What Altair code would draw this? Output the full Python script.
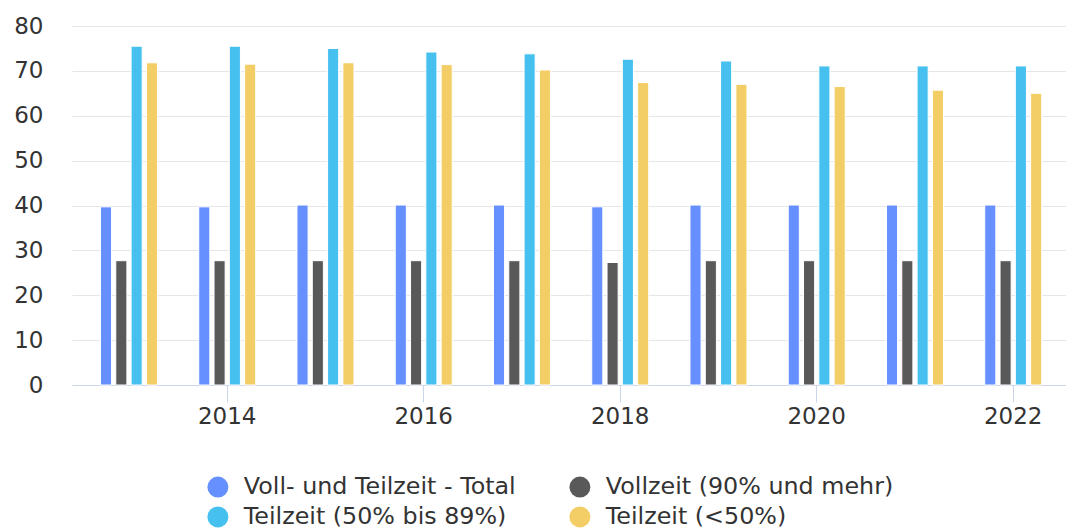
import altair as alt
import pandas as pd

years = [2013, 2014, 2015, 2016, 2017, 2018, 2019, 2020, 2021, 2022]
series_names = [
    "Voll- und Teilzeit - Total",
    "Vollzeit (90% und mehr)",
    "Teilzeit (50% bis 89%)",
    "Teilzeit (<50%)",
]
total = [39.7, 39.7, 40.1, 40.1, 40.1, 39.7, 40.1, 40.1, 40.1, 40.1]
vollzeit = [27.7, 27.7, 27.7, 27.7, 27.7, 27.3, 27.7, 27.7, 27.7, 27.7]
teil_50_89 = [75.5, 75.5, 75.0, 74.2, 73.8, 72.6, 72.2, 71.1, 71.1, 71.1]
teil_lt50 = [71.8, 71.5, 71.8, 71.4, 70.2, 67.4, 67.0, 66.5, 65.7, 65.0]
colors = ["#668fff", "#595959", "#46c1ef", "#f3cd66"]
x_label_years = [2014, 2016, 2018, 2020, 2022]
y_ticks = [0, 10, 20, 30, 40, 50, 60, 70, 80]

rows = []
for name, vals in zip(series_names, [total, vollzeit, teil_50_89, teil_lt50]):
    for y, v in zip(years, vals):
        rows.append({"Jahr": y, "Serie": name, "Wert": v})
df = pd.DataFrame(rows)

FONT = "DejaVu Sans"

chart = (
    alt.Chart(df)
    .mark_bar(stroke="white", strokeWidth=1)
    .encode(
        x=alt.X(
            "Jahr:O",
            title=None,
            scale=alt.Scale(paddingInner=0.42, paddingOuter=0.2685, align=0.54),
            axis=alt.Axis(
                values=x_label_years,
                labelAngle=0,
                labelFontSize=23,
                labelColor="#333333",
                labelPadding=3,
                domainColor="#ccd6eb",
                tickColor="#ccd6eb",
                tickSize=17,
                grid=False,
            ),
        ),
        xOffset=alt.XOffset(
            "Serie:N",
            sort=series_names,
            scale=alt.Scale(paddingInner=0.275, paddingOuter=0),
        ),
        y=alt.Y(
            "Wert:Q",
            title=None,
            scale=alt.Scale(domain=[0, 80], nice=False),
            axis=alt.Axis(
                values=y_ticks,
                labelFontSize=23,
                labelColor="#333333",
                labelPadding=29,
                domain=False,
                ticks=False,
                gridColor="#e6e6e6",
            ),
        ),
        color=alt.Color(
            "Serie:N",
            sort=series_names,
            scale=alt.Scale(domain=series_names, range=colors),
            legend=alt.Legend(
                title=None,
                orient="none",
                direction="horizontal",
                legendX=134,
                legendY=449,
                columns=2,
                symbolType="circle",
                symbolSize=441,
                symbolStrokeWidth=0,
                labelFontSize=23.8,
                labelColor="#333333",
                labelOffset=14,
                columnPadding=52,
                rowPadding=5,
                padding=0,
                labelLimit=400,
            ),
        ),
        tooltip=["Jahr:O", "Serie:N", "Wert:Q"],
    )
    .properties(
        width=994,
        height=359,
        padding={"left": 5, "top": 7, "right": 0, "bottom": 3},
    )
    .configure(font=FONT)
    .configure_view(stroke=None)
)

chart.save("out.html", embed_options={"renderer": "svg", "actions": False})
